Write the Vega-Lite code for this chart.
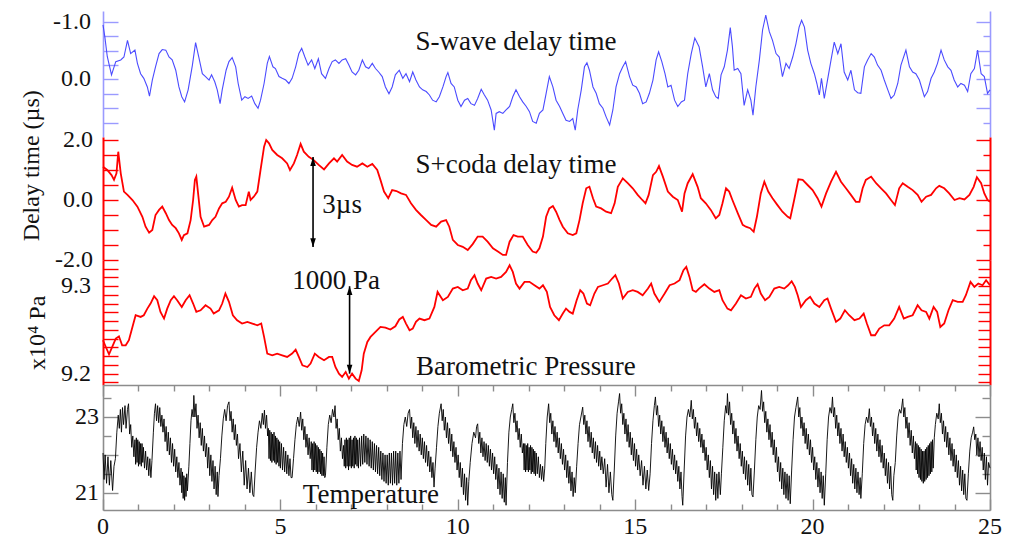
{
  "$schema": "https://vega.github.io/schema/vega-lite/v6.json",
  "background": "white",
  "padding": {"left": 19, "top": 9, "right": 10, "bottom": 0},
  "autosize": {"type": "pad"},
  "bounds": "flush",
  "spacing": 0,
  "config": {
    "font": "Liberation Serif",
    "view": {"stroke": null},
    "axis": {"grid": false, "labels": false, "title": null, "domainWidth": 1.6, "tickWidth": 1.4},
    "text": {"font": "Liberation Serif", "fontSize": 27, "color": "#111"}
  },
  "datasets": {
    "swave": [
      {"t":0,"v":-0.95},{"t":0.05,"v":-0.75},{"t":0.12,"v":-0.4},{"t":0.24,"v":-0.08},{"t":0.36,"v":-0.31},{"t":0.5,"v":-0.34},{"t":0.59,"v":-0.39},{"t":0.69,"v":-0.68},{"t":0.78,"v":-0.45},{"t":0.9,"v":-0.51},{"t":0.97,"v":-0.28},{"t":1.06,"v":-0.1},{"t":1.15,"v":-0.02},{"t":1.25,"v":0.13},{"t":1.31,"v":0.29},{"t":1.39,"v":0.01},{"t":1.48,"v":-0.22},{"t":1.58,"v":-0.45},{"t":1.67,"v":-0.52},{"t":1.77,"v":-0.51},{"t":1.86,"v":-0.39},{"t":1.95,"v":-0.34},{"t":2.05,"v":-0.16},{"t":2.14,"v":0.13},{"t":2.22,"v":0.3},{"t":2.3,"v":0.39},{"t":2.4,"v":0.18},{"t":2.52,"v":-0.25},{"t":2.61,"v":-0.64},{"t":2.7,"v":-0.39},{"t":2.8,"v":-0.1},{"t":2.89,"v":-0.05},{"t":2.99,"v":0.01},{"t":3.06,"v":-0.08},{"t":3.15,"v":0.04},{"t":3.22,"v":0.18},{"t":3.3,"v":0.42},{"t":3.36,"v":0.18},{"t":3.47,"v":-0.16},{"t":3.55,"v":-0.31},{"t":3.64,"v":-0.38},{"t":3.74,"v":-0.22},{"t":3.81,"v":0.07},{"t":3.91,"v":0.36},{"t":4.0,"v":0.3},{"t":4.09,"v":0.33},{"t":4.19,"v":0.29},{"t":4.28,"v":0.42},{"t":4.37,"v":0.5},{"t":4.44,"v":0.36},{"t":4.54,"v":0.07},{"t":4.63,"v":-0.28},{"t":4.69,"v":-0.4},{"t":4.79,"v":-0.22},{"t":4.86,"v":-0.19},{"t":4.96,"v":-0.05},{"t":5.05,"v":-0.02},{"t":5.15,"v":0.01},{"t":5.24,"v":0.07},{"t":5.33,"v":-0.02},{"t":5.43,"v":-0.22},{"t":5.52,"v":-0.45},{"t":5.6,"v":-0.54},{"t":5.69,"v":-0.39},{"t":5.78,"v":-0.25},{"t":5.88,"v":-0.34},{"t":5.97,"v":-0.19},{"t":6.07,"v":-0.36},{"t":6.16,"v":-0.1},{"t":6.27,"v":-0.02},{"t":6.37,"v":-0.19},{"t":6.46,"v":-0.31},{"t":6.55,"v":-0.34},{"t":6.65,"v":-0.28},{"t":6.74,"v":-0.34},{"t":6.84,"v":-0.36},{"t":6.93,"v":-0.25},{"t":7.02,"v":-0.13},{"t":7.12,"v":-0.08},{"t":7.21,"v":-0.16},{"t":7.31,"v":-0.34},{"t":7.4,"v":-0.22},{"t":7.49,"v":-0.19},{"t":7.59,"v":-0.28},{"t":7.68,"v":-0.19},{"t":7.77,"v":-0.13},{"t":7.87,"v":-0.05},{"t":7.96,"v":0.13},{"t":8.06,"v":0.25},{"t":8.15,"v":0.13},{"t":8.24,"v":-0.08},{"t":8.35,"v":-0.16},{"t":8.45,"v":-0.02},{"t":8.54,"v":-0.1},{"t":8.64,"v":0.04},{"t":8.73,"v":-0.13},{"t":8.82,"v":0.01},{"t":8.92,"v":0.13},{"t":9.01,"v":0.18},{"t":9.11,"v":0.21},{"t":9.2,"v":0.27},{"t":9.29,"v":0.36},{"t":9.39,"v":0.39},{"t":9.48,"v":0.3},{"t":9.58,"v":0.13},{"t":9.67,"v":-0.05},{"t":9.72,"v":-0.12},{"t":9.81,"v":0.07},{"t":9.9,"v":0.13},{"t":10.0,"v":0.36},{"t":10.09,"v":0.47},{"t":10.19,"v":0.36},{"t":10.28,"v":0.33},{"t":10.37,"v":0.42},{"t":10.47,"v":0.45},{"t":10.56,"v":0.33},{"t":10.66,"v":0.17},{"t":10.75,"v":0.27},{"t":10.84,"v":0.36},{"t":10.94,"v":0.53},{"t":11.03,"v":0.88},{"t":11.08,"v":0.59},{"t":11.17,"v":0.56},{"t":11.27,"v":0.59},{"t":11.36,"v":0.53},{"t":11.46,"v":0.47},{"t":11.55,"v":0.3},{"t":11.64,"v":0.18},{"t":11.74,"v":0.3},{"t":11.83,"v":0.39},{"t":11.93,"v":0.47},{"t":12.02,"v":0.56},{"t":12.11,"v":0.73},{"t":12.21,"v":0.76},{"t":12.3,"v":0.59},{"t":12.4,"v":0.53},{"t":12.49,"v":0.24},{"t":12.58,"v":-0.05},{"t":12.68,"v":0.13},{"t":12.77,"v":0.36},{"t":12.87,"v":0.47},{"t":12.96,"v":0.59},{"t":13.05,"v":0.71},{"t":13.15,"v":0.73},{"t":13.24,"v":0.68},{"t":13.31,"v":0.88},{"t":13.38,"v":0.53},{"t":13.48,"v":0.18},{"t":13.57,"v":-0.22},{"t":13.64,"v":-0.29},{"t":13.71,"v":-0.16},{"t":13.81,"v":0.13},{"t":13.9,"v":0.24},{"t":13.99,"v":0.42},{"t":14.09,"v":0.5},{"t":14.18,"v":0.65},{"t":14.28,"v":0.79},{"t":14.37,"v":0.53},{"t":14.46,"v":0.13},{"t":14.56,"v":-0.1},{"t":14.65,"v":-0.22},{"t":14.73,"v":-0.31},{"t":14.84,"v":-0.05},{"t":14.93,"v":0.1},{"t":15.03,"v":0.13},{"t":15.12,"v":0.24},{"t":15.21,"v":0.42},{"t":15.31,"v":0.39},{"t":15.4,"v":0.24},{"t":15.5,"v":0.01},{"t":15.59,"v":-0.34},{"t":15.66,"v":-0.48},{"t":15.75,"v":-0.31},{"t":15.84,"v":-0.1},{"t":15.92,"v":0.13},{"t":16.01,"v":0.1},{"t":16.11,"v":0.36},{"t":16.2,"v":0.47},{"t":16.3,"v":0.39},{"t":16.39,"v":0.36},{"t":16.48,"v":-0.1},{"t":16.58,"v":-0.45},{"t":16.68,"v":-0.72},{"t":16.8,"v":-0.57},{"t":16.9,"v":-0.22},{"t":16.99,"v":0.13},{"t":17.09,"v":-0.1},{"t":17.18,"v":0.18},{"t":17.27,"v":0.3},{"t":17.34,"v":0.33},{"t":17.42,"v":-0.08},{"t":17.51,"v":-0.22},{"t":17.6,"v":-0.51},{"t":17.68,"v":-0.9},{"t":17.74,"v":-0.57},{"t":17.79,"v":-0.16},{"t":17.89,"v":-0.19},{"t":17.98,"v":-0.1},{"t":18.07,"v":0.45},{"t":18.17,"v":0.18},{"t":18.26,"v":0.36},{"t":18.32,"v":0.62},{"t":18.4,"v":0.13},{"t":18.5,"v":-0.34},{"t":18.59,"v":-0.86},{"t":18.68,"v":-1.12},{"t":18.78,"v":-0.83},{"t":18.87,"v":-0.68},{"t":18.97,"v":-0.45},{"t":19.06,"v":-0.39},{"t":19.15,"v":-0.05},{"t":19.25,"v":-0.28},{"t":19.34,"v":-0.19},{"t":19.44,"v":-0.39},{"t":19.53,"v":-0.62},{"t":19.62,"v":-0.91},{"t":19.69,"v":-1.03},{"t":19.77,"v":-0.91},{"t":19.86,"v":-0.51},{"t":19.95,"v":-0.28},{"t":20.05,"v":-0.1},{"t":20.12,"v":0.07},{"t":20.19,"v":0.27},{"t":20.25,"v":-0.02},{"t":20.33,"v":0.33},{"t":20.42,"v":0.01},{"t":20.52,"v":-0.34},{"t":20.61,"v":-0.65},{"t":20.71,"v":-0.45},{"t":20.8,"v":-0.62},{"t":20.89,"v":-0.13},{"t":20.99,"v":0.01},{"t":21.08,"v":-0.16},{"t":21.18,"v":0.18},{"t":21.27,"v":0.23},{"t":21.36,"v":0.24},{"t":21.46,"v":-0.22},{"t":21.55,"v":-0.34},{"t":21.65,"v":-0.45},{"t":21.74,"v":-0.39},{"t":21.83,"v":-0.25},{"t":21.93,"v":-0.16},{"t":22.02,"v":0.01},{"t":22.12,"v":0.18},{"t":22.21,"v":0.33},{"t":22.3,"v":0.27},{"t":22.4,"v":0.07},{"t":22.49,"v":-0.25},{"t":22.63,"v":-0.51},{"t":22.73,"v":-0.22},{"t":22.82,"v":-0.13},{"t":22.91,"v":-0.1},{"t":23.01,"v":0.01},{"t":23.15,"v":0.3},{"t":23.24,"v":0.21},{"t":23.34,"v":-0.02},{"t":23.43,"v":-0.13},{"t":23.52,"v":-0.28},{"t":23.62,"v":-0.51},{"t":23.71,"v":-0.34},{"t":23.81,"v":-0.22},{"t":23.9,"v":-0.16},{"t":23.99,"v":0.01},{"t":24.09,"v":0.13},{"t":24.18,"v":0.07},{"t":24.28,"v":0.1},{"t":24.37,"v":0.21},{"t":24.46,"v":-0.1},{"t":24.56,"v":-0.19},{"t":24.65,"v":-0.51},{"t":24.75,"v":-0.1},{"t":24.84,"v":-0.05},{"t":24.93,"v":0.24},{"t":25.0,"v":0.18}
    ],
    "coda": [
      {"t":0,"v":1.11},{"t":0.12,"v":1.0},{"t":0.24,"v":0.83},{"t":0.31,"v":0.67},{"t":0.38,"v":0.89},{"t":0.43,"v":1.61},{"t":0.5,"v":0.89},{"t":0.59,"v":0.28},{"t":0.69,"v":0.17},{"t":0.83,"v":0.0},{"t":0.97,"v":-0.22},{"t":1.11,"v":-0.56},{"t":1.2,"v":-0.89},{"t":1.3,"v":-1.09},{"t":1.39,"v":-1.0},{"t":1.48,"v":-0.5},{"t":1.58,"v":-0.33},{"t":1.67,"v":-0.22},{"t":1.77,"v":-0.44},{"t":1.86,"v":-0.67},{"t":1.95,"v":-0.83},{"t":2.05,"v":-0.94},{"t":2.14,"v":-1.11},{"t":2.22,"v":-1.33},{"t":2.28,"v":-1.17},{"t":2.38,"v":-1.11},{"t":2.47,"v":-0.67},{"t":2.54,"v":0.0},{"t":2.59,"v":0.67},{"t":2.63,"v":0.78},{"t":2.69,"v":0.11},{"t":2.75,"v":-0.56},{"t":2.85,"v":-0.89},{"t":2.99,"v":-0.83},{"t":3.08,"v":-0.67},{"t":3.17,"v":-0.56},{"t":3.27,"v":-0.28},{"t":3.36,"v":-0.11},{"t":3.46,"v":-0.06},{"t":3.55,"v":0.11},{"t":3.64,"v":0.41},{"t":3.74,"v":0.0},{"t":3.83,"v":-0.22},{"t":3.92,"v":-0.17},{"t":4.02,"v":-0.17},{"t":4.11,"v":0.28},{"t":4.16,"v":0.0},{"t":4.25,"v":0.11},{"t":4.35,"v":0.28},{"t":4.44,"v":1.0},{"t":4.54,"v":1.78},{"t":4.6,"v":2.0},{"t":4.68,"v":1.89},{"t":4.77,"v":1.67},{"t":4.91,"v":1.5},{"t":5.05,"v":1.39},{"t":5.19,"v":1.22},{"t":5.27,"v":1.0},{"t":5.38,"v":1.22},{"t":5.47,"v":1.5},{"t":5.57,"v":1.87},{"t":5.66,"v":1.61},{"t":5.8,"v":1.44},{"t":5.94,"v":1.33},{"t":6.08,"v":1.17},{"t":6.23,"v":1.02},{"t":6.37,"v":1.22},{"t":6.51,"v":1.39},{"t":6.6,"v":1.28},{"t":6.74,"v":1.5},{"t":6.88,"v":1.28},{"t":7.02,"v":1.17},{"t":7.16,"v":1.11},{"t":7.31,"v":1.22},{"t":7.45,"v":1.11},{"t":7.59,"v":1.2},{"t":7.73,"v":1.0},{"t":7.82,"v":0.67},{"t":7.92,"v":0.28},{"t":8.04,"v":0.06},{"t":8.15,"v":0.33},{"t":8.27,"v":0.3},{"t":8.4,"v":0.22},{"t":8.54,"v":0.17},{"t":8.68,"v":-0.11},{"t":8.82,"v":-0.33},{"t":8.96,"v":-0.5},{"t":9.11,"v":-0.67},{"t":9.25,"v":-0.83},{"t":9.39,"v":-0.89},{"t":9.53,"v":-0.72},{"t":9.67,"v":-0.67},{"t":9.76,"v":-0.89},{"t":9.86,"v":-1.33},{"t":10.0,"v":-1.5},{"t":10.14,"v":-1.56},{"t":10.28,"v":-1.67},{"t":10.42,"v":-1.47},{"t":10.56,"v":-1.22},{"t":10.7,"v":-1.22},{"t":10.84,"v":-1.39},{"t":10.99,"v":-1.61},{"t":11.13,"v":-1.72},{"t":11.27,"v":-1.83},{"t":11.36,"v":-1.83},{"t":11.46,"v":-1.39},{"t":11.57,"v":-1.17},{"t":11.69,"v":-1.22},{"t":11.83,"v":-1.22},{"t":11.97,"v":-1.5},{"t":12.11,"v":-1.72},{"t":12.21,"v":-1.76},{"t":12.3,"v":-1.61},{"t":12.4,"v":-1.22},{"t":12.49,"v":-0.56},{"t":12.58,"v":-0.28},{"t":12.68,"v":-0.2},{"t":12.77,"v":-0.39},{"t":12.87,"v":-0.67},{"t":12.96,"v":-0.89},{"t":13.1,"v":-1.11},{"t":13.24,"v":-1.17},{"t":13.34,"v":-1.11},{"t":13.43,"v":-0.67},{"t":13.52,"v":-0.11},{"t":13.62,"v":0.39},{"t":13.71,"v":0.44},{"t":13.81,"v":0.06},{"t":13.9,"v":-0.22},{"t":14.04,"v":-0.28},{"t":14.18,"v":-0.39},{"t":14.32,"v":-0.44},{"t":14.42,"v":-0.11},{"t":14.51,"v":0.44},{"t":14.65,"v":0.72},{"t":14.79,"v":0.56},{"t":14.93,"v":0.39},{"t":15.07,"v":0.17},{"t":15.2,"v":0.0},{"t":15.29,"v":-0.11},{"t":15.38,"v":0.17},{"t":15.5,"v":0.83},{"t":15.59,"v":0.94},{"t":15.67,"v":1.13},{"t":15.78,"v":0.78},{"t":15.92,"v":0.28},{"t":16.06,"v":0.11},{"t":16.2,"v":0.0},{"t":16.32,"v":-0.39},{"t":16.39,"v":0.22},{"t":16.48,"v":0.56},{"t":16.62,"v":0.86},{"t":16.76,"v":0.44},{"t":16.85,"v":0.06},{"t":16.99,"v":-0.11},{"t":17.13,"v":-0.33},{"t":17.27,"v":-0.61},{"t":17.37,"v":-0.5},{"t":17.46,"v":-0.11},{"t":17.56,"v":0.39},{"t":17.65,"v":0.28},{"t":17.74,"v":0.0},{"t":17.89,"v":-0.44},{"t":18.03,"v":-0.83},{"t":18.12,"v":-0.89},{"t":18.24,"v":-0.94},{"t":18.34,"v":-1.06},{"t":18.43,"v":-0.56},{"t":18.54,"v":0.22},{"t":18.64,"v":0.61},{"t":18.75,"v":0.28},{"t":18.87,"v":0.06},{"t":19.01,"v":-0.17},{"t":19.15,"v":-0.39},{"t":19.3,"v":-0.56},{"t":19.37,"v":-0.61},{"t":19.48,"v":0.0},{"t":19.6,"v":0.69},{"t":19.72,"v":0.67},{"t":19.86,"v":0.5},{"t":20.0,"v":0.33},{"t":20.14,"v":0.06},{"t":20.25,"v":-0.22},{"t":20.38,"v":0.22},{"t":20.52,"v":0.61},{"t":20.66,"v":0.94},{"t":20.8,"v":0.61},{"t":20.94,"v":0.39},{"t":21.08,"v":0.17},{"t":21.22,"v":-0.06},{"t":21.32,"v":-0.06},{"t":21.41,"v":0.39},{"t":21.5,"v":0.67},{"t":21.65,"v":0.78},{"t":21.79,"v":0.56},{"t":21.93,"v":0.39},{"t":22.07,"v":0.22},{"t":22.21,"v":0.0},{"t":22.32,"v":-0.17},{"t":22.44,"v":0.39},{"t":22.54,"v":0.56},{"t":22.68,"v":0.44},{"t":22.82,"v":0.33},{"t":22.96,"v":0.17},{"t":23.07,"v":-0.06},{"t":23.2,"v":0.11},{"t":23.34,"v":0.17},{"t":23.48,"v":0.39},{"t":23.57,"v":0.47},{"t":23.71,"v":0.39},{"t":23.85,"v":0.22},{"t":24.0,"v":0.0},{"t":24.14,"v":0.06},{"t":24.28,"v":0.02},{"t":24.42,"v":0.17},{"t":24.54,"v":0.44},{"t":24.63,"v":0.76},{"t":24.75,"v":0.56},{"t":24.84,"v":0.22},{"t":24.93,"v":0.0},{"t":25.0,"v":-0.06}
    ],
    "pres": [
      {"t":0,"v":9.2382},{"t":0.08,"v":9.2305},{"t":0.17,"v":9.2221},{"t":0.26,"v":9.2305},{"t":0.36,"v":9.2401},{"t":0.45,"v":9.2427},{"t":0.54,"v":9.2324},{"t":0.64,"v":9.2324},{"t":0.73,"v":9.2382},{"t":0.83,"v":9.2534},{"t":0.92,"v":9.2668},{"t":1.06,"v":9.2649},{"t":1.15,"v":9.2668},{"t":1.25,"v":9.2744},{"t":1.34,"v":9.2802},{"t":1.44,"v":9.2885},{"t":1.53,"v":9.284},{"t":1.62,"v":9.2706},{"t":1.72,"v":9.263},{"t":1.81,"v":9.2744},{"t":1.91,"v":9.284},{"t":2.0,"v":9.2885},{"t":2.09,"v":9.284},{"t":2.22,"v":9.2763},{"t":2.33,"v":9.284},{"t":2.44,"v":9.2897},{"t":2.54,"v":9.2802},{"t":2.63,"v":9.2706},{"t":2.75,"v":9.2725},{"t":2.89,"v":9.2782},{"t":3.03,"v":9.2744},{"t":3.12,"v":9.2687},{"t":3.27,"v":9.2725},{"t":3.36,"v":9.2802},{"t":3.45,"v":9.2916},{"t":3.55,"v":9.2821},{"t":3.66,"v":9.2668},{"t":3.78,"v":9.2611},{"t":3.92,"v":9.2573},{"t":4.07,"v":9.2592},{"t":4.21,"v":9.2573},{"t":4.35,"v":9.2553},{"t":4.46,"v":9.2573},{"t":4.54,"v":9.242},{"t":4.63,"v":9.2229},{"t":4.77,"v":9.221},{"t":4.91,"v":9.2229},{"t":5.05,"v":9.221},{"t":5.19,"v":9.2191},{"t":5.33,"v":9.2229},{"t":5.43,"v":9.2275},{"t":5.52,"v":9.2191},{"t":5.62,"v":9.2095},{"t":5.76,"v":9.2076},{"t":5.85,"v":9.2115},{"t":5.97,"v":9.2229},{"t":6.08,"v":9.2191},{"t":6.23,"v":9.2153},{"t":6.37,"v":9.2191},{"t":6.46,"v":9.2191},{"t":6.55,"v":9.2076},{"t":6.65,"v":9.2},{"t":6.74,"v":9.1962},{"t":6.84,"v":9.2019},{"t":6.93,"v":9.1943},{"t":7.02,"v":9.2},{"t":7.12,"v":9.1943},{"t":7.21,"v":9.1916},{"t":7.29,"v":9.2038},{"t":7.35,"v":9.2229},{"t":7.45,"v":9.2363},{"t":7.54,"v":9.242},{"t":7.68,"v":9.2477},{"t":7.82,"v":9.2534},{"t":7.96,"v":9.2527},{"t":8.1,"v":9.2504},{"t":8.24,"v":9.2542},{"t":8.35,"v":9.262},{"t":8.45,"v":9.2649},{"t":8.54,"v":9.2573},{"t":8.64,"v":9.2496},{"t":8.73,"v":9.2515},{"t":8.82,"v":9.2592},{"t":8.92,"v":9.263},{"t":9.06,"v":9.2611},{"t":9.2,"v":9.263},{"t":9.34,"v":9.2763},{"t":9.43,"v":9.2935},{"t":9.58,"v":9.284},{"t":9.72,"v":9.2878},{"t":9.86,"v":9.2973},{"t":10.0,"v":9.2992},{"t":10.14,"v":9.2954},{"t":10.28,"v":9.2973},{"t":10.37,"v":9.3069},{"t":10.47,"v":9.3126},{"t":10.56,"v":9.3031},{"t":10.66,"v":9.2954},{"t":10.8,"v":9.3088},{"t":10.94,"v":9.3107},{"t":11.08,"v":9.3088},{"t":11.22,"v":9.3107},{"t":11.36,"v":9.3164},{"t":11.46,"v":9.324},{"t":11.55,"v":9.3164},{"t":11.64,"v":9.3031},{"t":11.74,"v":9.2973},{"t":11.88,"v":9.305},{"t":12.02,"v":9.305},{"t":12.16,"v":9.3011},{"t":12.3,"v":9.2973},{"t":12.4,"v":9.3011},{"t":12.51,"v":9.2935},{"t":12.6,"v":9.2763},{"t":12.72,"v":9.2668},{"t":12.85,"v":9.2611},{"t":12.96,"v":9.2687},{"t":13.05,"v":9.2744},{"t":13.15,"v":9.2706},{"t":13.24,"v":9.2687},{"t":13.35,"v":9.284},{"t":13.45,"v":9.2954},{"t":13.54,"v":9.2916},{"t":13.64,"v":9.2802},{"t":13.73,"v":9.2782},{"t":13.85,"v":9.2916},{"t":13.95,"v":9.2992},{"t":14.09,"v":9.3011},{"t":14.23,"v":9.3031},{"t":14.35,"v":9.3088},{"t":14.44,"v":9.3126},{"t":14.54,"v":9.3031},{"t":14.65,"v":9.2859},{"t":14.79,"v":9.2935},{"t":14.93,"v":9.2954},{"t":15.07,"v":9.2935},{"t":15.21,"v":9.2897},{"t":15.36,"v":9.2973},{"t":15.45,"v":9.3031},{"t":15.54,"v":9.2916},{"t":15.68,"v":9.2821},{"t":15.83,"v":9.2916},{"t":15.97,"v":9.3011},{"t":16.11,"v":9.3031},{"t":16.25,"v":9.3069},{"t":16.36,"v":9.3183},{"t":16.44,"v":9.3221},{"t":16.53,"v":9.3107},{"t":16.62,"v":9.2954},{"t":16.71,"v":9.2935},{"t":16.8,"v":9.2973},{"t":16.95,"v":9.3023},{"t":17.09,"v":9.2973},{"t":17.23,"v":9.2935},{"t":17.37,"v":9.2954},{"t":17.46,"v":9.284},{"t":17.6,"v":9.2744},{"t":17.7,"v":9.2725},{"t":17.84,"v":9.2802},{"t":17.98,"v":9.2897},{"t":18.12,"v":9.2859},{"t":18.26,"v":9.2878},{"t":18.36,"v":9.2973},{"t":18.45,"v":9.3023},{"t":18.54,"v":9.2916},{"t":18.66,"v":9.284},{"t":18.78,"v":9.2878},{"t":18.92,"v":9.2973},{"t":19.06,"v":9.2992},{"t":19.2,"v":9.2973},{"t":19.31,"v":9.3011},{"t":19.41,"v":9.3057},{"t":19.5,"v":9.2992},{"t":19.58,"v":9.2897},{"t":19.67,"v":9.2763},{"t":19.81,"v":9.284},{"t":19.93,"v":9.2878},{"t":20.05,"v":9.2802},{"t":20.19,"v":9.2763},{"t":20.33,"v":9.284},{"t":20.42,"v":9.2859},{"t":20.52,"v":9.2744},{"t":20.66,"v":9.2592},{"t":20.78,"v":9.263},{"t":20.91,"v":9.2725},{"t":21.03,"v":9.2668},{"t":21.18,"v":9.2611},{"t":21.32,"v":9.263},{"t":21.44,"v":9.2687},{"t":21.53,"v":9.2573},{"t":21.65,"v":9.2439},{"t":21.76,"v":9.2439},{"t":21.88,"v":9.2515},{"t":22.02,"v":9.2553},{"t":22.16,"v":9.2553},{"t":22.3,"v":9.263},{"t":22.44,"v":9.2763},{"t":22.57,"v":9.263},{"t":22.68,"v":9.2649},{"t":22.82,"v":9.2668},{"t":22.96,"v":9.2782},{"t":23.07,"v":9.2725},{"t":23.2,"v":9.2706},{"t":23.29,"v":9.263},{"t":23.41,"v":9.2763},{"t":23.51,"v":9.2706},{"t":23.6,"v":9.2534},{"t":23.71,"v":9.2573},{"t":23.83,"v":9.2725},{"t":23.95,"v":9.284},{"t":24.09,"v":9.2821},{"t":24.23,"v":9.2821},{"t":24.32,"v":9.2897},{"t":24.45,"v":9.305},{"t":24.56,"v":9.2992},{"t":24.67,"v":9.3031},{"t":24.79,"v":9.3011},{"t":24.89,"v":9.3069},{"t":25.0,"v":9.3011}
    ],
    "temp": [
      {"t":0,"v":22.05},{"t":0.03,"v":21.35},{"t":0.06,"v":22.0},{"t":0.1,"v":21.25},{"t":0.14,"v":21.95},{"t":0.18,"v":21.2},{"t":0.22,"v":21.85},{"t":0.27,"v":21.06},{"t":0.31,"v":21.7},{"t":0.35,"v":21.9},{"t":0.39,"v":22.6},{"t":0.43,"v":23.05},{"t":0.46,"v":22.7},{"t":0.49,"v":23.2},{"t":0.52,"v":22.6},{"t":0.55,"v":23.25},{"t":0.58,"v":22.8},{"t":0.62,"v":23.3},{"t":0.65,"v":22.7},{"t":0.69,"v":23.2},{"t":0.72,"v":23.35},{"t":0.75,"v":22.55},{"t":0.78,"v":22.8},{"t":0.81,"v":22.2},{"t":0.84,"v":22.5},{"t":0.87,"v":21.95},
      {"t":0.9,"v":22.4},{"t":0.92,"v":21.75},{"t":0.94,"v":22.45},{"t":0.96,"v":21.8},{"t":0.98,"v":22.4},{"t":1.0,"v":21.7},{"t":1.02,"v":22.35},{"t":1.04,"v":21.75},{"t":1.06,"v":22.3},{"t":1.08,"v":21.7},{"t":1.1,"v":22.3},{"t":1.12,"v":21.8},{"t":1.14,"v":22.2},{"t":1.17,"v":21.65},{"t":1.2,"v":22.1},{"t":1.23,"v":21.6},{"t":1.26,"v":21.95},{"t":1.29,"v":21.45},{"t":1.32,"v":21.9},{"t":1.35,"v":21.4},{"t":1.38,"v":21.85},
      {"t":1.42,"v":22.6},{"t":1.45,"v":23.1},{"t":1.48,"v":23.35},{"t":1.51,"v":22.9},{"t":1.54,"v":23.3},{"t":1.57,"v":22.85},{"t":1.6,"v":23.25},{"t":1.63,"v":22.75},{"t":1.66,"v":23.05},{"t":1.69,"v":22.6},{"t":1.72,"v":22.95},{"t":1.75,"v":22.35},{"t":1.78,"v":22.75},{"t":1.81,"v":22.1},{"t":1.84,"v":22.6},{"t":1.87,"v":22.0},{"t":1.9,"v":22.45},{"t":1.93,"v":21.8},{"t":1.96,"v":22.3},{"t":1.99,"v":21.7},{"t":2.02,"v":22.15},{"t":2.05,"v":21.55},{"t":2.08,"v":21.95},{"t":2.11,"v":21.4},{"t":2.14,"v":21.8},{"t":2.17,"v":21.2},{"t":2.2,"v":21.65},{"t":2.22,"v":21.0},{"t":2.24,"v":21.55},{"t":2.26,"v":20.85},{"t":2.28,"v":21.45},{"t":2.3,"v":20.8},{"t":2.32,"v":21.4},{"t":2.34,"v":20.9},{"t":2.36,"v":21.5},{"t":2.38,"v":21.05},
      {"t":2.42,"v":21.7},{"t":2.45,"v":22.3},{"t":2.48,"v":22.9},{"t":2.51,"v":23.2},{"t":2.54,"v":23.0},{"t":2.56,"v":23.57},{"t":2.59,"v":23.0},{"t":2.62,"v":23.35},{"t":2.65,"v":22.7},{"t":2.68,"v":23.05},{"t":2.71,"v":22.45},{"t":2.74,"v":22.85},{"t":2.77,"v":22.25},{"t":2.8,"v":22.7},{"t":2.83,"v":22.1},{"t":2.86,"v":22.5},{"t":2.89,"v":21.95},{"t":2.92,"v":22.3},{"t":2.95,"v":21.65},{"t":2.98,"v":22.2},{"t":3.01,"v":21.45},{"t":3.04,"v":22.0},{"t":3.07,"v":21.3},{"t":3.1,"v":21.85},{"t":3.13,"v":21.1},{"t":3.16,"v":21.7},{"t":3.19,"v":20.95},{"t":3.22,"v":21.55},{"t":3.24,"v":20.9},{"t":3.27,"v":21.45},
      {"t":3.31,"v":21.9},{"t":3.35,"v":22.5},{"t":3.39,"v":22.95},{"t":3.43,"v":23.2},{"t":3.47,"v":22.9},{"t":3.51,"v":23.3},{"t":3.55,"v":23.4},{"t":3.58,"v":22.9},{"t":3.61,"v":23.15},{"t":3.64,"v":22.6},{"t":3.67,"v":22.95},{"t":3.7,"v":22.4},{"t":3.73,"v":22.8},{"t":3.76,"v":22.25},{"t":3.79,"v":22.55},{"t":3.82,"v":21.9},{"t":3.86,"v":22.3},{"t":3.9,"v":21.55},{"t":3.94,"v":22.1},{"t":3.98,"v":21.2},{"t":4.02,"v":21.85},{"t":4.06,"v":21.1},{"t":4.1,"v":21.65},{"t":4.14,"v":21.0},{"t":4.18,"v":21.55},{"t":4.22,"v":20.95},{"t":4.25,"v":20.9},
      {"t":4.29,"v":21.6},{"t":4.33,"v":22.2},{"t":4.37,"v":22.6},{"t":4.41,"v":22.9},{"t":4.45,"v":22.7},{"t":4.49,"v":23.1},{"t":4.52,"v":22.8},{"t":4.55,"v":23.18},{"t":4.58,"v":22.7},{"t":4.61,"v":23.05},{"t":4.64,"v":22.5},{"t":4.66,"v":22.7},{"t":4.68,"v":21.9},{"t":4.7,"v":22.65},{"t":4.72,"v":21.85},{"t":4.74,"v":22.6},{"t":4.76,"v":21.8},{"t":4.78,"v":22.55},{"t":4.8,"v":21.85},{"t":4.82,"v":22.6},{"t":4.84,"v":21.8},{"t":4.86,"v":22.5},{"t":4.88,"v":21.75},{"t":4.9,"v":22.45},{"t":4.92,"v":21.8},{"t":4.94,"v":22.4},{"t":4.96,"v":21.7},{"t":4.98,"v":22.35},{"t":5.0,"v":21.65},{"t":5.03,"v":22.3},{"t":5.06,"v":21.6},{"t":5.09,"v":22.2},{"t":5.12,"v":21.55},{"t":5.15,"v":22.1},{"t":5.18,"v":21.5},{"t":5.21,"v":22.0},{"t":5.24,"v":21.45},{"t":5.27,"v":21.9},{"t":5.3,"v":21.4},{"t":5.33,"v":21.4},
      {"t":5.37,"v":21.9},{"t":5.41,"v":22.4},{"t":5.45,"v":22.8},{"t":5.49,"v":23.0},{"t":5.53,"v":22.75},{"t":5.57,"v":23.13},{"t":5.6,"v":22.65},{"t":5.63,"v":22.95},{"t":5.66,"v":22.4},{"t":5.69,"v":22.75},{"t":5.72,"v":22.2},{"t":5.75,"v":22.55},{"t":5.78,"v":22.0},{"t":5.81,"v":22.45},{"t":5.84,"v":21.9},{"t":5.87,"v":22.35},{"t":5.89,"v":21.6},{"t":5.91,"v":22.3},{"t":5.93,"v":21.55},{"t":5.95,"v":22.35},{"t":5.97,"v":21.6},{"t":5.99,"v":22.3},{"t":6.01,"v":21.55},{"t":6.03,"v":22.25},{"t":6.05,"v":21.5},{"t":6.07,"v":22.2},{"t":6.09,"v":21.55},{"t":6.11,"v":22.15},{"t":6.13,"v":21.5},{"t":6.15,"v":22.1},{"t":6.17,"v":21.45},{"t":6.19,"v":22.05},{"t":6.21,"v":21.45},{"t":6.23,"v":21.95},{"t":6.25,"v":21.4},{"t":6.27,"v":21.45},
      {"t":6.31,"v":22.2},{"t":6.35,"v":22.8},{"t":6.39,"v":23.05},{"t":6.43,"v":22.85},{"t":6.47,"v":23.2},{"t":6.51,"v":23.0},{"t":6.54,"v":23.3},{"t":6.57,"v":22.7},{"t":6.6,"v":22.95},{"t":6.63,"v":22.4},{"t":6.66,"v":22.7},{"t":6.69,"v":22.1},{"t":6.72,"v":22.45},{"t":6.75,"v":21.9},{"t":6.78,"v":22.25},{"t":6.8,"v":21.7},{"t":6.82,"v":22.4},{"t":6.84,"v":21.65},{"t":6.86,"v":22.45},{"t":6.88,"v":21.7},{"t":6.9,"v":22.4},{"t":6.92,"v":21.6},{"t":6.94,"v":22.45},{"t":6.96,"v":21.7},{"t":6.98,"v":22.5},{"t":7.0,"v":21.65},{"t":7.02,"v":22.4},{"t":7.04,"v":21.7},{"t":7.06,"v":22.45},{"t":7.08,"v":21.65},{"t":7.1,"v":22.5},{"t":7.12,"v":21.75},{"t":7.14,"v":22.45},{"t":7.16,"v":21.7},{"t":7.18,"v":22.4},{"t":7.2,"v":21.65},{"t":7.23,"v":22.45},{"t":7.26,"v":21.7},{"t":7.29,"v":22.5},{"t":7.32,"v":21.75},{"t":7.35,"v":22.55},{"t":7.38,"v":21.8},{"t":7.41,"v":22.5},{"t":7.44,"v":21.75},{"t":7.47,"v":22.45},{"t":7.5,"v":21.7},{"t":7.53,"v":22.4},{"t":7.56,"v":21.65},{"t":7.59,"v":22.35},{"t":7.62,"v":21.6},{"t":7.65,"v":22.3},{"t":7.68,"v":21.55},{"t":7.71,"v":22.25},{"t":7.74,"v":21.5},{"t":7.77,"v":22.2},{"t":7.8,"v":21.45},{"t":7.83,"v":22.1},{"t":7.86,"v":21.35},{"t":7.89,"v":22.05},{"t":7.92,"v":21.3},{"t":7.95,"v":22.0},{"t":7.98,"v":21.25},{"t":8.01,"v":22.0},{"t":8.04,"v":21.2},{"t":8.07,"v":22.05},{"t":8.1,"v":21.25},{"t":8.13,"v":22.05},{"t":8.16,"v":21.2},{"t":8.19,"v":22.1},{"t":8.22,"v":21.25},{"t":8.25,"v":22.1},{"t":8.28,"v":21.2},{"t":8.31,"v":22.05},{"t":8.34,"v":21.25},{"t":8.37,"v":22.1},{"t":8.4,"v":21.35},
      {"t":8.44,"v":22.3},{"t":8.48,"v":22.8},{"t":8.52,"v":23.0},{"t":8.56,"v":22.75},{"t":8.6,"v":23.1},{"t":8.64,"v":23.2},{"t":8.67,"v":22.7},{"t":8.7,"v":23.0},{"t":8.73,"v":22.45},{"t":8.76,"v":22.85},{"t":8.79,"v":22.3},{"t":8.82,"v":22.75},{"t":8.85,"v":22.2},{"t":8.88,"v":22.65},{"t":8.91,"v":22.1},{"t":8.94,"v":22.55},{"t":8.97,"v":22.0},{"t":9.0,"v":22.45},{"t":9.03,"v":21.9},{"t":9.06,"v":22.35},{"t":9.09,"v":21.8},{"t":9.12,"v":22.25},{"t":9.15,"v":21.7},{"t":9.18,"v":22.1},{"t":9.21,"v":21.55},{"t":9.24,"v":21.95},{"t":9.27,"v":21.4},{"t":9.3,"v":21.8},{"t":9.33,"v":21.15},{"t":9.36,"v":21.65},
      {"t":9.4,"v":22.2},{"t":9.44,"v":22.75},{"t":9.48,"v":23.1},{"t":9.53,"v":23.35},{"t":9.56,"v":22.9},{"t":9.59,"v":23.2},{"t":9.62,"v":22.65},{"t":9.65,"v":23.0},{"t":9.68,"v":22.45},{"t":9.71,"v":22.85},{"t":9.74,"v":22.3},{"t":9.77,"v":22.7},{"t":9.8,"v":22.1},{"t":9.83,"v":22.55},{"t":9.86,"v":21.95},{"t":9.89,"v":22.35},{"t":9.92,"v":21.8},{"t":9.95,"v":22.2},{"t":9.98,"v":21.6},{"t":10.01,"v":22.0},{"t":10.04,"v":21.4},{"t":10.07,"v":21.8},{"t":10.1,"v":21.15},{"t":10.13,"v":21.65},{"t":10.16,"v":20.95},{"t":10.19,"v":21.5},{"t":10.22,"v":20.8},{"t":10.25,"v":21.4},{"t":10.28,"v":20.67},{"t":10.31,"v":21.3},
      {"t":10.35,"v":21.8},{"t":10.4,"v":22.3},{"t":10.45,"v":22.6},{"t":10.5,"v":22.45},{"t":10.53,"v":22.75},{"t":10.56,"v":22.82},{"t":10.59,"v":22.3},{"t":10.62,"v":22.6},{"t":10.65,"v":22.05},{"t":10.68,"v":22.45},{"t":10.71,"v":21.95},{"t":10.74,"v":22.35},{"t":10.77,"v":21.85},{"t":10.8,"v":22.3},{"t":10.83,"v":21.8},{"t":10.86,"v":22.25},{"t":10.89,"v":21.7},{"t":10.92,"v":22.15},{"t":10.95,"v":21.6},{"t":10.98,"v":22.05},{"t":11.01,"v":21.5},{"t":11.04,"v":21.95},{"t":11.07,"v":21.35},{"t":11.1,"v":21.75},{"t":11.13,"v":21.1},{"t":11.16,"v":21.65},{"t":11.19,"v":20.95},{"t":11.22,"v":21.55},{"t":11.25,"v":20.85},{"t":11.28,"v":21.5},{"t":11.31,"v":20.75},{"t":11.34,"v":21.4},{"t":11.36,"v":20.67},
      {"t":11.4,"v":21.8},{"t":11.44,"v":22.6},{"t":11.48,"v":23.0},{"t":11.52,"v":23.2},{"t":11.55,"v":23.35},{"t":11.58,"v":22.85},{"t":11.61,"v":23.1},{"t":11.64,"v":22.6},{"t":11.67,"v":22.9},{"t":11.7,"v":22.4},{"t":11.73,"v":22.7},{"t":11.76,"v":22.2},{"t":11.79,"v":22.55},{"t":11.82,"v":22.05},{"t":11.85,"v":22.3},{"t":11.87,"v":21.6},{"t":11.89,"v":22.3},{"t":11.91,"v":21.55},{"t":11.93,"v":22.25},{"t":11.95,"v":21.6},{"t":11.97,"v":22.3},{"t":11.99,"v":21.55},{"t":12.01,"v":22.2},{"t":12.03,"v":21.6},{"t":12.05,"v":22.25},{"t":12.07,"v":21.5},{"t":12.09,"v":22.2},{"t":12.11,"v":21.55},{"t":12.13,"v":22.15},{"t":12.15,"v":21.5},{"t":12.17,"v":22.1},{"t":12.19,"v":21.45},{"t":12.21,"v":22.05},{"t":12.24,"v":21.5},{"t":12.27,"v":21.95},{"t":12.3,"v":21.4},{"t":12.33,"v":21.75},{"t":12.36,"v":21.35},{"t":12.39,"v":21.7},{"t":12.42,"v":21.3},{"t":12.45,"v":21.65},
      {"t":12.48,"v":22.3},{"t":12.52,"v":23.0},{"t":12.56,"v":23.35},{"t":12.59,"v":22.85},{"t":12.62,"v":23.1},{"t":12.65,"v":22.55},{"t":12.68,"v":22.9},{"t":12.71,"v":22.35},{"t":12.74,"v":22.75},{"t":12.77,"v":22.2},{"t":12.8,"v":22.6},{"t":12.83,"v":22.05},{"t":12.86,"v":22.45},{"t":12.89,"v":21.9},{"t":12.92,"v":22.3},{"t":12.95,"v":21.75},{"t":12.98,"v":22.15},{"t":13.01,"v":21.6},{"t":13.04,"v":22.0},{"t":13.07,"v":21.4},{"t":13.1,"v":21.85},{"t":13.13,"v":21.25},{"t":13.16,"v":21.7},{"t":13.19,"v":21.05},{"t":13.22,"v":21.55},{"t":13.25,"v":20.9},{"t":13.28,"v":21.4},{"t":13.31,"v":21.0},
      {"t":13.35,"v":21.7},{"t":13.39,"v":22.3},{"t":13.43,"v":22.8},{"t":13.47,"v":23.0},{"t":13.52,"v":23.26},{"t":13.55,"v":22.8},{"t":13.58,"v":23.05},{"t":13.61,"v":22.55},{"t":13.64,"v":22.9},{"t":13.67,"v":22.35},{"t":13.7,"v":22.75},{"t":13.73,"v":22.2},{"t":13.76,"v":22.6},{"t":13.79,"v":22.05},{"t":13.82,"v":22.45},{"t":13.85,"v":21.9},{"t":13.88,"v":22.35},{"t":13.91,"v":21.8},{"t":13.94,"v":22.25},{"t":13.97,"v":21.7},{"t":14.0,"v":22.1},{"t":14.03,"v":21.6},{"t":14.06,"v":21.95},{"t":14.1,"v":21.5},{"t":14.14,"v":21.9},{"t":14.18,"v":21.15},{"t":14.22,"v":21.75},{"t":14.26,"v":21.0},{"t":14.3,"v":21.55},{"t":14.34,"v":20.95},{"t":14.37,"v":20.8},
      {"t":14.41,"v":21.6},{"t":14.45,"v":22.5},{"t":14.49,"v":23.1},{"t":14.53,"v":23.4},{"t":14.56,"v":23.62},{"t":14.59,"v":23.1},{"t":14.62,"v":23.35},{"t":14.65,"v":22.8},{"t":14.68,"v":23.1},{"t":14.71,"v":22.55},{"t":14.74,"v":22.95},{"t":14.77,"v":22.35},{"t":14.8,"v":22.8},{"t":14.83,"v":22.2},{"t":14.86,"v":22.6},{"t":14.89,"v":22.0},{"t":14.92,"v":22.45},{"t":14.95,"v":21.85},{"t":14.98,"v":22.3},{"t":15.01,"v":21.7},{"t":15.04,"v":22.15},{"t":15.07,"v":21.6},{"t":15.1,"v":22.0},{"t":15.14,"v":21.45},{"t":15.18,"v":21.85},{"t":15.22,"v":21.2},{"t":15.26,"v":21.7},{"t":15.3,"v":21.1},{"t":15.34,"v":21.6},{"t":15.38,"v":21.06},{"t":15.42,"v":21.5},
      {"t":15.46,"v":22.3},{"t":15.5,"v":22.9},{"t":15.54,"v":23.3},{"t":15.57,"v":23.53},{"t":15.6,"v":23.05},{"t":15.63,"v":23.3},{"t":15.66,"v":22.75},{"t":15.69,"v":23.05},{"t":15.72,"v":22.55},{"t":15.75,"v":22.9},{"t":15.78,"v":22.35},{"t":15.81,"v":22.75},{"t":15.84,"v":22.2},{"t":15.87,"v":22.6},{"t":15.9,"v":22.05},{"t":15.93,"v":22.45},{"t":15.96,"v":21.9},{"t":15.99,"v":22.3},{"t":16.02,"v":21.75},{"t":16.05,"v":22.15},{"t":16.08,"v":21.6},{"t":16.11,"v":22.0},{"t":16.14,"v":21.5},{"t":16.17,"v":21.85},{"t":16.2,"v":21.3},{"t":16.23,"v":21.7},{"t":16.26,"v":21.1},{"t":16.29,"v":21.55},{"t":16.32,"v":20.9},{"t":16.34,"v":20.67},
      {"t":16.38,"v":21.6},{"t":16.42,"v":22.5},{"t":16.46,"v":23.0},{"t":16.5,"v":23.2},{"t":16.54,"v":23.0},{"t":16.58,"v":23.44},{"t":16.61,"v":22.95},{"t":16.64,"v":23.2},{"t":16.67,"v":22.7},{"t":16.7,"v":23.0},{"t":16.73,"v":22.5},{"t":16.76,"v":22.85},{"t":16.79,"v":22.35},{"t":16.82,"v":22.7},{"t":16.85,"v":22.2},{"t":16.88,"v":22.55},{"t":16.91,"v":22.05},{"t":16.94,"v":22.4},{"t":16.97,"v":21.85},{"t":17.0,"v":22.2},{"t":17.03,"v":21.6},{"t":17.06,"v":22.0},{"t":17.09,"v":21.4},{"t":17.12,"v":21.85},{"t":17.15,"v":21.1},{"t":17.18,"v":21.7},{"t":17.21,"v":20.95},{"t":17.24,"v":21.55},{"t":17.27,"v":20.8},{"t":17.3,"v":21.5},{"t":17.33,"v":20.85},{"t":17.36,"v":21.55},{"t":17.4,"v":20.95},{"t":17.43,"v":21.5},
      {"t":17.47,"v":22.2},{"t":17.51,"v":22.9},{"t":17.55,"v":23.3},{"t":17.58,"v":23.1},{"t":17.6,"v":23.62},{"t":17.63,"v":23.05},{"t":17.66,"v":23.4},{"t":17.69,"v":22.8},{"t":17.72,"v":23.1},{"t":17.75,"v":22.55},{"t":17.78,"v":22.9},{"t":17.81,"v":22.3},{"t":17.84,"v":22.7},{"t":17.87,"v":22.1},{"t":17.9,"v":22.5},{"t":17.93,"v":21.9},{"t":17.96,"v":22.3},{"t":17.99,"v":21.7},{"t":18.02,"v":22.1},{"t":18.05,"v":21.5},{"t":18.08,"v":21.95},{"t":18.11,"v":21.35},{"t":18.14,"v":21.85},{"t":18.17,"v":21.2},{"t":18.2,"v":21.75},{"t":18.23,"v":21.05},{"t":18.26,"v":21.65},{"t":18.29,"v":20.95},{"t":18.32,"v":20.89},
      {"t":18.36,"v":21.6},{"t":18.4,"v":22.4},{"t":18.44,"v":23.0},{"t":18.48,"v":23.3},{"t":18.52,"v":23.2},{"t":18.56,"v":23.7},{"t":18.59,"v":23.15},{"t":18.62,"v":23.4},{"t":18.65,"v":22.85},{"t":18.68,"v":23.15},{"t":18.71,"v":22.6},{"t":18.74,"v":22.95},{"t":18.77,"v":22.4},{"t":18.8,"v":22.8},{"t":18.83,"v":22.2},{"t":18.86,"v":22.6},{"t":18.89,"v":22.0},{"t":18.92,"v":22.4},{"t":18.95,"v":21.8},{"t":18.98,"v":22.2},{"t":19.01,"v":21.55},{"t":19.04,"v":21.95},{"t":19.07,"v":21.3},{"t":19.1,"v":21.8},{"t":19.13,"v":21.1},{"t":19.16,"v":21.65},{"t":19.19,"v":20.95},{"t":19.22,"v":21.55},{"t":19.25,"v":20.85},{"t":19.28,"v":21.5},{"t":19.31,"v":20.8},{"t":19.34,"v":21.45},{"t":19.37,"v":20.71},
      {"t":19.41,"v":21.6},{"t":19.45,"v":22.4},{"t":19.49,"v":23.0},{"t":19.53,"v":23.25},{"t":19.58,"v":23.53},{"t":19.61,"v":23.0},{"t":19.64,"v":23.25},{"t":19.67,"v":22.7},{"t":19.7,"v":23.0},{"t":19.73,"v":22.5},{"t":19.76,"v":22.85},{"t":19.79,"v":22.3},{"t":19.82,"v":22.7},{"t":19.85,"v":22.15},{"t":19.88,"v":22.55},{"t":19.91,"v":22.0},{"t":19.94,"v":22.4},{"t":19.97,"v":21.8},{"t":20.0,"v":22.2},{"t":20.03,"v":21.6},{"t":20.06,"v":21.95},{"t":20.09,"v":21.35},{"t":20.12,"v":21.8},{"t":20.15,"v":21.15},{"t":20.18,"v":21.65},{"t":20.21,"v":21.0},{"t":20.24,"v":21.55},{"t":20.27,"v":20.85},{"t":20.3,"v":21.45},{"t":20.33,"v":20.67},
      {"t":20.37,"v":21.5},{"t":20.41,"v":22.4},{"t":20.45,"v":23.0},{"t":20.49,"v":23.25},{"t":20.53,"v":23.1},{"t":20.56,"v":23.53},{"t":20.59,"v":23.0},{"t":20.62,"v":23.25},{"t":20.65,"v":22.7},{"t":20.68,"v":23.05},{"t":20.71,"v":22.5},{"t":20.74,"v":22.85},{"t":20.77,"v":22.3},{"t":20.8,"v":22.7},{"t":20.83,"v":22.1},{"t":20.86,"v":22.55},{"t":20.89,"v":21.95},{"t":20.92,"v":22.35},{"t":20.95,"v":21.8},{"t":20.98,"v":22.2},{"t":21.01,"v":21.65},{"t":21.04,"v":22.05},{"t":21.07,"v":21.45},{"t":21.1,"v":21.9},{"t":21.13,"v":21.25},{"t":21.16,"v":21.75},{"t":21.19,"v":21.1},{"t":21.22,"v":21.65},{"t":21.25,"v":21.0},{"t":21.28,"v":21.55},{"t":21.31,"v":20.95},{"t":21.34,"v":21.4},{"t":21.36,"v":20.85},
      {"t":21.4,"v":21.5},{"t":21.44,"v":22.3},{"t":21.48,"v":22.8},{"t":21.52,"v":23.0},{"t":21.56,"v":22.85},{"t":21.6,"v":23.22},{"t":21.63,"v":22.75},{"t":21.66,"v":23.0},{"t":21.69,"v":22.5},{"t":21.72,"v":22.85},{"t":21.75,"v":22.3},{"t":21.78,"v":22.7},{"t":21.81,"v":22.1},{"t":21.84,"v":22.55},{"t":21.87,"v":21.95},{"t":21.9,"v":22.4},{"t":21.93,"v":21.8},{"t":21.96,"v":22.25},{"t":21.99,"v":21.65},{"t":22.02,"v":22.05},{"t":22.05,"v":21.45},{"t":22.08,"v":21.9},{"t":22.11,"v":21.25},{"t":22.14,"v":21.8},{"t":22.17,"v":21.1},{"t":22.2,"v":21.7},{"t":22.23,"v":20.95},{"t":22.26,"v":20.8},{"t":22.29,"v":21.45},
      {"t":22.33,"v":21.8},{"t":22.37,"v":22.5},{"t":22.41,"v":23.0},{"t":22.45,"v":23.2},{"t":22.49,"v":23.1},{"t":22.54,"v":23.48},{"t":22.57,"v":23.0},{"t":22.6,"v":23.25},{"t":22.63,"v":22.7},{"t":22.66,"v":23.0},{"t":22.69,"v":22.45},{"t":22.72,"v":22.85},{"t":22.75,"v":22.25},{"t":22.78,"v":22.65},{"t":22.81,"v":22.05},{"t":22.84,"v":22.5},{"t":22.87,"v":21.9},{"t":22.9,"v":22.35},{"t":22.92,"v":21.6},{"t":22.94,"v":22.3},{"t":22.96,"v":21.5},{"t":22.98,"v":22.25},{"t":23.0,"v":21.4},{"t":23.02,"v":22.2},{"t":23.04,"v":21.35},{"t":23.06,"v":22.15},{"t":23.08,"v":21.3},{"t":23.1,"v":22.1},{"t":23.12,"v":21.25},{"t":23.14,"v":22.1},{"t":23.16,"v":21.3},{"t":23.18,"v":22.15},{"t":23.2,"v":21.35},{"t":23.22,"v":22.2},{"t":23.24,"v":21.4},{"t":23.26,"v":22.25},{"t":23.28,"v":21.45},{"t":23.3,"v":22.3},{"t":23.32,"v":21.5},{"t":23.34,"v":22.35},{"t":23.36,"v":21.55},{"t":23.38,"v":22.4},{"t":23.4,"v":21.65},{"t":23.43,"v":22.45},
      {"t":23.46,"v":22.8},{"t":23.5,"v":23.1},{"t":23.54,"v":22.95},{"t":23.57,"v":23.35},{"t":23.6,"v":22.85},{"t":23.63,"v":23.1},{"t":23.66,"v":22.55},{"t":23.69,"v":22.9},{"t":23.72,"v":22.35},{"t":23.75,"v":22.75},{"t":23.78,"v":22.2},{"t":23.81,"v":22.6},{"t":23.84,"v":22.0},{"t":23.87,"v":22.45},{"t":23.9,"v":21.85},{"t":23.93,"v":22.3},{"t":23.96,"v":21.7},{"t":23.99,"v":22.15},{"t":24.02,"v":21.55},{"t":24.05,"v":22.0},{"t":24.08,"v":21.4},{"t":24.11,"v":21.85},{"t":24.14,"v":21.2},{"t":24.17,"v":21.7},{"t":24.2,"v":21.05},{"t":24.23,"v":21.6},{"t":24.26,"v":20.95},{"t":24.29,"v":21.5},{"t":24.32,"v":20.85},{"t":24.35,"v":20.8},
      {"t":24.39,"v":21.5},{"t":24.43,"v":22.1},{"t":24.47,"v":22.45},{"t":24.51,"v":22.6},{"t":24.54,"v":22.74},{"t":24.57,"v":22.4},{"t":24.6,"v":22.55},{"t":24.63,"v":22.0},{"t":24.66,"v":22.45},{"t":24.69,"v":21.95},{"t":24.72,"v":22.35},{"t":24.75,"v":21.85},{"t":24.78,"v":22.2},{"t":24.81,"v":21.6},{"t":24.84,"v":22.05},{"t":24.87,"v":21.35},{"t":24.9,"v":21.95},{"t":24.93,"v":21.2},{"t":24.96,"v":21.8},{"t":25.0,"v":21.65}
    ],
    "notes1": [{"t":11.64,"v":-0.65,"label":"S-wave delay time"}],
    "notes2": [{"t":11.64,"v":1.18,"label":"S+coda delay time"},{"t":6.74,"v":-0.16,"label":"3µs"}],
    "notes3": [{"t":11.92,"v":9.2077,"label":"Barometric Pressure"},{"t":6.57,"v":9.306,"label":"1000 Pa"}],
    "notes4": [{"t":7.55,"v":20.93,"label":"Temperature"}],
    "span2": [{"t":5.92,"lo":-1.57,"hi":1.43}],
    "span3": [{"t":6.95,"lo":9.2,"hi":9.3}],
    "ylab1": [{"t":0,"v":-1,"label":"-1.0"},{"t":0,"v":0,"label":"0.0"}],
    "ylab2": [{"t":0,"v":2,"label":"2.0"},{"t":0,"v":0,"label":"0.0"},{"t":0,"v":-2,"label":"-2.0"}],
    "ylab3": [{"t":0,"v":9.3,"label":"9.3"},{"t":0,"v":9.2,"label":"9.2"}],
    "ylab4": [{"t":0,"v":23,"label":"23"},{"t":0,"v":21,"label":"21"}],
    "xlab4": [{"t":0,"label":"0"},{"t":5,"label":"5"},{"t":10,"label":"10"},{"t":15,"label":"15"},{"t":20,"label":"20"},{"t":25,"label":"25"}],
    "ttl2": [{"t":0,"v":1.14,"label":"Delay time (µs)"}],
    "ttl3": [{"t":0,"v":9.2466,"label":"x10⁴ Pa"}]
  },
  "vconcat": [
    {
      "width": 887,
      "height": 126,
      "layer": [
        {
          "data": {"name": "swave"},
          "mark": {"type": "line", "color": "#4b4bff", "strokeWidth": 1.1},
          "encoding": {
            "x": {"field": "t", "type": "quantitative", "scale": {"domain": [0, 25], "nice": false, "zero": false},
              "axis": {"orient": "top", "values": [0,1,2,3,4,5,6,7,8,9,10,11,12,13,14,15,16,17,18,19,20,21,22,23,24,25], "domainColor": "#8c8c8c", "tickColor": "#8c8c8c", "tickSize": {"condition": {"test": "datum.value % 5 === 0", "value": -11}, "value": -6}}},
            "y": {"field": "v", "type": "quantitative", "scale": {"domain": [-1.19, 1.0], "reverse": true, "nice": false, "zero": false},
              "axis": {"orient": "left", "values": [-1, -0.75, -0.5, -0.25, 0, 0.25, 0.5, 0.75], "tickSize": -15, "domainColor": "#9a9aff", "tickColor": "#9a9aff"}}
          }
        },
        {
          "data": {"name": "ylab1"},
          "mark": {"type": "text", "align": "right", "baseline": "middle", "fontSize": 24, "dx": -12},
          "encoding": {
            "x": {"field": "t", "type": "quantitative", "scale": {"domain": [0, 25], "nice": false, "zero": false}, "axis": null},
            "y": {"field": "v", "type": "quantitative", "scale": {"domain": [-1.19, 1.0], "reverse": true, "nice": false, "zero": false}, "axis": null},
            "text": {"field": "label"}
          }
        },
        {
          "data": {"name": "notes1"},
          "mark": {"type": "text", "align": "center", "baseline": "middle"},
          "encoding": {
            "x": {"field": "t", "type": "quantitative", "scale": {"domain": [0, 25], "nice": false, "zero": false}, "axis": null},
            "y": {"field": "v", "type": "quantitative", "scale": {"domain": [-1.19, 1.0], "reverse": true, "nice": false, "zero": false},
              "axis": {"orient": "right", "values": [-1, -0.75, -0.5, -0.25, 0, 0.25, 0.5, 0.75], "domainColor": "#9a9aff", "tickColor": "#9a9aff", "tickSize": {"condition": {"test": "abs(datum.value * 2 - round(datum.value * 2)) < 0.001", "value": -14}, "value": -7}}},
            "text": {"field": "label"}
          }
        }
      ]
    },
    {
      "width": 887,
      "height": 123,
      "layer": [
        {
          "data": {"name": "coda"},
          "mark": {"type": "line", "color": "#ff0000", "strokeWidth": 1.8},
          "encoding": {
            "x": {"field": "t", "type": "quantitative", "scale": {"domain": [0, 25], "nice": false, "zero": false},
              "axis": {"orient": "top", "values": [0,1,2,3,4,5,6,7,8,9,10,11,12,13,14,15,16,17,18,19,20,21,22,23,24,25], "domainColor": "#ff0000", "domainWidth": 2, "tickColor": "#ff0000", "tickSize": {"condition": {"test": "datum.value % 5 === 0", "value": -11}, "value": -6}}},
            "y": {"field": "v", "type": "quantitative", "scale": {"domain": [-2.0, 2.1], "nice": false, "zero": false},
              "axis": {"orient": "left", "values": [-2, -1.5, -1, -0.5, 0, 0.5, 1, 1.5, 2], "tickSize": -15, "domainColor": "#ff0000", "domainWidth": 2, "tickColor": "#ff0000"}}
          }
        },
        {
          "data": {"name": "ylab2"},
          "mark": {"type": "text", "align": "right", "baseline": "middle", "fontSize": 24, "dx": -10},
          "encoding": {
            "x": {"field": "t", "type": "quantitative", "scale": {"domain": [0, 25], "nice": false, "zero": false}, "axis": null},
            "y": {"field": "v", "type": "quantitative", "scale": {"domain": [-2.0, 2.1], "nice": false, "zero": false}, "axis": null},
            "text": {"field": "label"}
          }
        },
        {
          "data": {"name": "ttl2"},
          "mark": {"type": "text", "align": "center", "baseline": "middle", "fontSize": 24, "angle": 270, "dy": -71},
          "encoding": {
            "x": {"field": "t", "type": "quantitative", "scale": {"domain": [0, 25], "nice": false, "zero": false}, "axis": null},
            "y": {"field": "v", "type": "quantitative", "scale": {"domain": [-2.0, 2.1], "nice": false, "zero": false}, "axis": null},
            "text": {"field": "label"}
          }
        },
        {
          "data": {"name": "span2"},
          "mark": {"type": "rule", "color": "#000", "strokeWidth": 1.6},
          "encoding": {
            "x": {"field": "t", "type": "quantitative", "scale": {"domain": [0, 25], "nice": false, "zero": false}, "axis": null},
            "y": {"field": "lo", "type": "quantitative", "scale": {"domain": [-2.0, 2.1], "nice": false, "zero": false}, "axis": null},
            "y2": {"field": "hi"}
          }
        },
        {
          "data": {"name": "span2"},
          "mark": {"type": "point", "shape": "M0,0L0.7,2.2L-0.7,2.2Z", "filled": true, "size": 64, "color": "#000", "opacity": 1},
          "encoding": {
            "x": {"field": "t", "type": "quantitative", "scale": {"domain": [0, 25], "nice": false, "zero": false}, "axis": null},
            "y": {"field": "hi", "type": "quantitative", "scale": {"domain": [-2.0, 2.1], "nice": false, "zero": false}, "axis": null}
          }
        },
        {
          "data": {"name": "span2"},
          "mark": {"type": "point", "shape": "M0,0L0.7,-2.2L-0.7,-2.2Z", "filled": true, "size": 64, "color": "#000", "opacity": 1},
          "encoding": {
            "x": {"field": "t", "type": "quantitative", "scale": {"domain": [0, 25], "nice": false, "zero": false}, "axis": null},
            "y": {"field": "lo", "type": "quantitative", "scale": {"domain": [-2.0, 2.1], "nice": false, "zero": false}, "axis": null}
          }
        },
        {
          "data": {"name": "notes2"},
          "mark": {"type": "text", "align": "center", "baseline": "middle"},
          "encoding": {
            "x": {"field": "t", "type": "quantitative", "scale": {"domain": [0, 25], "nice": false, "zero": false}, "axis": null},
            "y": {"field": "v", "type": "quantitative", "scale": {"domain": [-2.0, 2.1], "nice": false, "zero": false},
              "axis": {"orient": "right", "values": [-2, -1.5, -1, -0.5, 0, 0.5, 1, 1.5, 2], "domainColor": "#ff0000", "domainWidth": 2, "tickColor": "#ff0000", "tickSize": {"condition": {"test": "datum.value === round(datum.value)", "value": -14}, "value": -7}}},
            "text": {"field": "label"}
          }
        }
      ]
    },
    {
      "width": 887,
      "height": 125,
      "layer": [
        {
          "data": {"name": "pres"},
          "mark": {"type": "line", "color": "#ff0000", "strokeWidth": 1.8},
          "encoding": {
            "x": {"field": "t", "type": "quantitative", "scale": {"domain": [0, 25], "nice": false, "zero": false},
              "axis": {"orient": "top", "values": [0,1,2,3,4,5,6,7,8,9,10,11,12,13,14,15,16,17,18,19,20,21,22,23,24,25], "domainColor": "#ff0000", "domainWidth": 2, "tickColor": "#ff0000", "tickSize": {"condition": {"test": "datum.value % 5 === 0", "value": -11}, "value": -6}}},
            "y": {"field": "v", "type": "quantitative", "scale": {"domain": [9.187, 9.330], "nice": false, "zero": false},
              "axis": {"orient": "left", "values": [9.19, 9.2, 9.21, 9.22, 9.23, 9.24, 9.25, 9.26, 9.27, 9.28, 9.29, 9.3, 9.31, 9.32], "tickSize": -15, "domainColor": "#ff0000", "domainWidth": 2, "tickColor": "#ff0000"}}
          }
        },
        {
          "data": {"name": "ylab3"},
          "mark": {"type": "text", "align": "right", "baseline": "middle", "fontSize": 24, "dx": -12},
          "encoding": {
            "x": {"field": "t", "type": "quantitative", "scale": {"domain": [0, 25], "nice": false, "zero": false}, "axis": null},
            "y": {"field": "v", "type": "quantitative", "scale": {"domain": [9.187, 9.330], "nice": false, "zero": false}, "axis": null},
            "text": {"field": "label"}
          }
        },
        {
          "data": {"name": "ttl3"},
          "mark": {"type": "text", "align": "center", "baseline": "middle", "fontSize": 24, "angle": 270, "dy": -65},
          "encoding": {
            "x": {"field": "t", "type": "quantitative", "scale": {"domain": [0, 25], "nice": false, "zero": false}, "axis": null},
            "y": {"field": "v", "type": "quantitative", "scale": {"domain": [9.187, 9.330], "nice": false, "zero": false}, "axis": null},
            "text": {"field": "label"}
          }
        },
        {
          "data": {"name": "span3"},
          "mark": {"type": "rule", "color": "#000", "strokeWidth": 1.6},
          "encoding": {
            "x": {"field": "t", "type": "quantitative", "scale": {"domain": [0, 25], "nice": false, "zero": false}, "axis": null},
            "y": {"field": "lo", "type": "quantitative", "scale": {"domain": [9.187, 9.330], "nice": false, "zero": false}, "axis": null},
            "y2": {"field": "hi"}
          }
        },
        {
          "data": {"name": "span3"},
          "mark": {"type": "point", "shape": "M0,0L0.7,2.2L-0.7,2.2Z", "filled": true, "size": 64, "color": "#000", "opacity": 1},
          "encoding": {
            "x": {"field": "t", "type": "quantitative", "scale": {"domain": [0, 25], "nice": false, "zero": false}, "axis": null},
            "y": {"field": "hi", "type": "quantitative", "scale": {"domain": [9.187, 9.330], "nice": false, "zero": false}, "axis": null}
          }
        },
        {
          "data": {"name": "span3"},
          "mark": {"type": "point", "shape": "M0,0L0.7,-2.2L-0.7,-2.2Z", "filled": true, "size": 64, "color": "#000", "opacity": 1},
          "encoding": {
            "x": {"field": "t", "type": "quantitative", "scale": {"domain": [0, 25], "nice": false, "zero": false}, "axis": null},
            "y": {"field": "lo", "type": "quantitative", "scale": {"domain": [9.187, 9.330], "nice": false, "zero": false}, "axis": null}
          }
        },
        {
          "data": {"name": "notes3"},
          "mark": {"type": "text", "align": "center", "baseline": "middle"},
          "encoding": {
            "x": {"field": "t", "type": "quantitative", "scale": {"domain": [0, 25], "nice": false, "zero": false}, "axis": null},
            "y": {"field": "v", "type": "quantitative", "scale": {"domain": [9.187, 9.330], "nice": false, "zero": false},
              "axis": {"orient": "right", "values": [9.19, 9.2, 9.21, 9.22, 9.23, 9.24, 9.25, 9.26, 9.27, 9.28, 9.29, 9.3, 9.31, 9.32], "domainColor": "#ff0000", "domainWidth": 2, "tickColor": "#ff0000", "tickSize": -12}},
            "text": {"field": "label"}
          }
        }
      ]
    },
    {
      "width": 887,
      "height": 125,
      "layer": [
        {
          "data": {"name": "temp"},
          "mark": {"type": "line", "color": "#000", "strokeWidth": 0.9},
          "encoding": {
            "x": {"field": "t", "type": "quantitative", "scale": {"domain": [0, 25], "nice": false, "zero": false},
              "axis": {"orient": "top", "values": [0,1,2,3,4,5,6,7,8,9,10,11,12,13,14,15,16,17,18,19,20,21,22,23,24,25], "domainColor": "#8c8c8c", "tickColor": "#8c8c8c", "tickSize": {"condition": {"test": "datum.value % 5 === 0", "value": -11}, "value": -6}}},
            "y": {"field": "v", "type": "quantitative", "scale": {"domain": [20.545, 23.845], "nice": false, "zero": false},
              "axis": {"orient": "left", "values": [21, 21.5, 22, 22.5, 23, 23.5], "domainColor": "#8c8c8c", "tickColor": "#8c8c8c", "tickSize": {"condition": {"test": "datum.value === round(datum.value)", "value": -15}, "value": -8}}}
          }
        },
        {
          "data": {"name": "ylab4"},
          "mark": {"type": "text", "align": "right", "baseline": "middle", "fontSize": 24, "dx": -4},
          "encoding": {
            "x": {"field": "t", "type": "quantitative", "scale": {"domain": [0, 25], "nice": false, "zero": false}, "axis": null},
            "y": {"field": "v", "type": "quantitative", "scale": {"domain": [20.545, 23.845], "nice": false, "zero": false}, "axis": null},
            "text": {"field": "label"}
          }
        },
        {
          "data": {"name": "xlab4"},
          "mark": {"type": "text", "align": "center", "baseline": "top", "fontSize": 24, "dy": 5},
          "encoding": {
            "x": {"field": "t", "type": "quantitative", "scale": {"domain": [0, 25], "nice": false, "zero": false}, "axis": null},
            "y": {"value": "height"},
            "text": {"field": "label"}
          }
        },
        {
          "data": {"name": "notes4"},
          "mark": {"type": "text", "align": "center", "baseline": "middle"},
          "encoding": {
            "x": {"field": "t", "type": "quantitative", "scale": {"domain": [0, 25], "nice": false, "zero": false},
              "axis": {"orient": "bottom", "values": [0,1,2,3,4,5,6,7,8,9,10,11,12,13,14,15,16,17,18,19,20,21,22,23,24,25], "domainColor": "#8c8c8c", "tickColor": "#8c8c8c", "tickSize": {"condition": {"test": "datum.value % 5 === 0", "value": -11}, "value": -6}}},
            "y": {"field": "v", "type": "quantitative", "scale": {"domain": [20.545, 23.845], "nice": false, "zero": false},
              "axis": {"orient": "right", "values": [21, 21.5, 22, 22.5, 23, 23.5], "domainColor": "#8c8c8c", "tickColor": "#8c8c8c", "tickSize": {"condition": {"test": "datum.value === round(datum.value)", "value": -15}, "value": -8}}},
            "text": {"field": "label"}
          }
        }
      ]
    }
  ]
}
